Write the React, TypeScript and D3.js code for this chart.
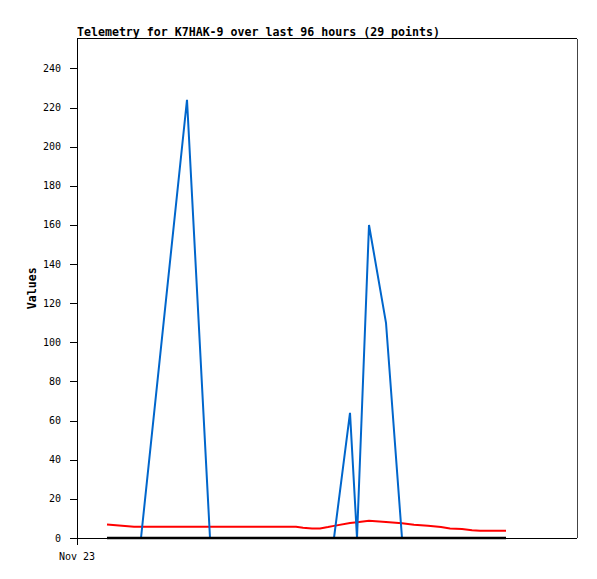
import React from "react";
import * as d3 from "d3";

// hours since Nov 23 00:00
const times = [6, 9, 11.4, 12.8, 22, 26.6, 32.6, 38.6, 43.8, 45.2, 47, 48.6, 50.2, 51.4, 54.6, 56, 58.4, 61.8, 65, 67.4, 70.2, 72.8, 74.6, 77, 79, 80.6, 82.6, 84.2, 85.8];
const blueValues = [0, 0, 0, 0, 224, 0, 0, 0, 0, 0, 0, 0, 0, 0, 64, 0, 160, 110, 0, 0, 0, 0, 0, 0, 0, 0, 0, 0, 0];
const redValues = [6.9, 6.3, 5.8, 5.8, 5.8, 5.8, 5.8, 5.8, 5.8, 5.2, 4.8, 4.9, 5.6, 6.2, 7.7, 8.0, 8.8, 8.2, 7.5, 6.8, 6.3, 5.6, 4.8, 4.6, 4.0, 3.7, 3.7, 3.7, 3.7];
const blackValues = [0, 0, 0, 0, 0, 0, 0, 0, 0, 0, 0, 0, 0, 0, 0, 0, 0, 0, 0, 0, 0, 0, 0, 0, 0, 0, 0, 0, 0];
const yTicks = [0, 20, 40, 60, 80, 100, 120, 140, 160, 180, 200, 220, 240];
const xTicks = [0];
const xTickLabels = ["Nov 23"];
const title = "Telemetry for K7HAK-9 over last 96 hours (29 points)";
const yLabel = "Values";

const W = 597, H = 579;
const L = 77, R = 577, T = 38.5, B = 538;

export default function App() {
  const x = d3.scaleLinear().domain([0, 100]).range([L, R]);
  const y = d3.scaleLinear().domain([0, 255.3]).range([B, T]);
  const mk = (vals: number[]) =>
    d3.line<number>().x((_, i) => x(times[i])).y((v) => y(v))(vals) || "";
  const mono = "'DejaVu Sans Mono', monospace";
  return (
    <svg width={W} height={H} style={{ position: "absolute", left: 0, top: 0, background: "#fff" }}>
      <rect x={0} y={0} width={W} height={H} fill="#fff" />
      <text x={L} y={35.5} fontFamily={mono} fontWeight="bold" fontSize={11.6} fill="#000">{title}</text>
      <text transform={`translate(36,${(T + B) / 2}) rotate(-90)`} textAnchor="middle" fontFamily={mono} fontWeight="bold" fontSize={11.6} fill="#000">{yLabel}</text>
      {/* frame */}
      <g shapeRendering="crispEdges" stroke="#000" strokeWidth={1}>
        <line x1={L} y1={T} x2={R} y2={T} />
        <line x1={L} y1={T} x2={L} y2={B + 7} />
        <line x1={R} y1={T} x2={R} y2={B} stroke="#444" />
        <line x1={L} y1={B} x2={R} y2={B} />
      </g>
      {yTicks.map((t) => (
        <g key={t}>
          <line x1={L - 7} x2={L} y1={Math.round(y(t)) + 0.5} y2={Math.round(y(t)) + 0.5} stroke="#000" shapeRendering="crispEdges" />
          <text x={61} y={y(t)} dy="0.35em" textAnchor="end" fontFamily={mono} fontSize={10} fill="#000">{t}</text>
        </g>
      ))}
      {xTicks.map((t, i) => (
        <g key={t}>
          <line x1={x(t) + 0.5} x2={x(t) + 0.5} y1={B} y2={B + 7} stroke="#000" shapeRendering="crispEdges" />
          <text x={x(t)} y={560} textAnchor="middle" fontFamily={mono} fontSize={10} fill="#000">{xTickLabels[i]}</text>
        </g>
      ))}
      <path d={mk(redValues)} fill="none" stroke="#ff0000" strokeWidth={2} />
      <path d={mk(blueValues)} fill="none" stroke="#0066cc" strokeWidth={2} />
      <path d={mk(blackValues)} fill="none" stroke="#000" strokeWidth={2.5} />
    </svg>
  );
}
